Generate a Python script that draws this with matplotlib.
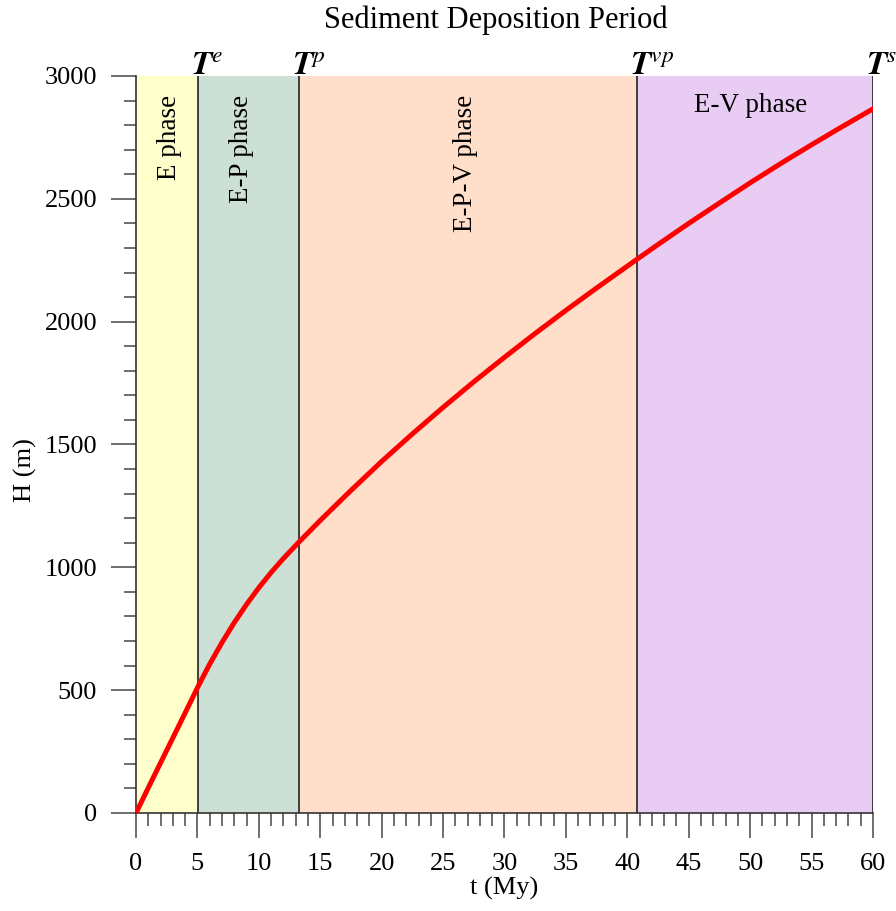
import numpy as np
import matplotlib.pyplot as plt
from matplotlib.ticker import MultipleLocator
from matplotlib.transforms import offset_copy

plt.rcParams['font.family'] = ['Liberation Serif', 'DejaVu Serif']
plt.rcParams['mathtext.fontset'] = 'stix'

# curve
t = [0, 1.1, 2.5, 3.9, 5.05, 6, 7, 8, 9, 10, 11, 12, 13.25, 15, 17.5, 20,
     22.5, 25, 27.5, 30, 32.5, 35, 37.5, 40.76, 42.5, 45, 47.5, 50, 52.5,
     55, 57.5, 60]
H = [0, 113, 255, 397, 515, 606, 694, 775, 849, 917, 979, 1036, 1102, 1191,
     1313, 1431, 1543, 1651, 1755, 1855, 1952, 2046, 2137, 2253, 2314, 2400,
     2483, 2565, 2644, 2720, 2794, 2866]

# phase boundaries
bounds = [0, 5.05, 13.25, 40.76, 60]
bound_labels = ['', r'$\boldsymbol{T}^{e}$', r'$\boldsymbol{T}^{p}$',
                r'$\boldsymbol{T}^{vp}$', r'$\boldsymbol{T}^{s}$']
phase_names = ['E phase', 'E-P phase', 'E-P-V phase', 'E-V phase']
phase_colors = ['#FFFFCC', '#CDE0D6', '#FFDFCA', '#E9CCF3']

fig = plt.figure(figsize=(8.96, 9.11), dpi=100)
ax = fig.add_axes([0.1518, 0.1076, 0.8225, 0.809])

for i in range(4):
    ax.axvspan(bounds[i], bounds[i + 1], color=phase_colors[i], lw=0, zorder=0)
for b in bounds[1:]:
    ax.axvline(b, color='#222222', lw=1.2, zorder=1)

ax.plot(t, H, color='red', lw=3.6, zorder=3, solid_capstyle='round')

# phase labels
ax.text(2.75, 2925, phase_names[0], rotation=90, ha='center', va='top', fontsize=19.5)
ax.text(8.6, 2925, phase_names[1], rotation=90, ha='center', va='top', fontsize=19.5)
ax.text(26.8, 2925, phase_names[2], rotation=90, ha='center', va='top', fontsize=19.5)
ax.text(50.0, 2880, phase_names[3], ha='center', va='center', fontsize=19.5)

shift = offset_copy(ax.transData, fig=fig, x=-7, y=1, units='dots')
for b, lab in zip(bounds[1:], bound_labels[1:]):
    ax.text(b, 3000, lab, ha='left', va='baseline', fontsize=24, transform=shift)

ax.set_xlim(0, 60)
ax.set_ylim(0, 3000)
ax.xaxis.set_major_locator(MultipleLocator(5))
ax.xaxis.set_minor_locator(MultipleLocator(1))
ax.yaxis.set_major_locator(MultipleLocator(500))
ax.yaxis.set_minor_locator(MultipleLocator(100))
ax.tick_params(which='major', direction='out', length=18, width=1.2,
               color='#555555', labelsize=19, pad=10)
ax.tick_params(which='minor', direction='out', length=9, width=1.2, color='#555555')
ax.tick_params(axis='x', which='major', pad=11)

for s in ['top', 'right']:
    ax.spines[s].set_visible(False)
for s in ['left', 'bottom']:
    ax.spines[s].set_color('#333333')
    ax.spines[s].set_linewidth(1.2)

ax.set_xlabel('t (My)', fontsize=19, va='center')
ax.xaxis.set_label_coords(0.5, -0.102)
ax.set_ylabel('H (m)', fontsize=19, va='center')
ax.yaxis.set_label_coords(-0.1506, 0.465)
fig.text(0.553, 0.978, 'Sediment Deposition Period', ha='center', va='center', fontsize=22)

fig.savefig('out.png', dpi=100)
